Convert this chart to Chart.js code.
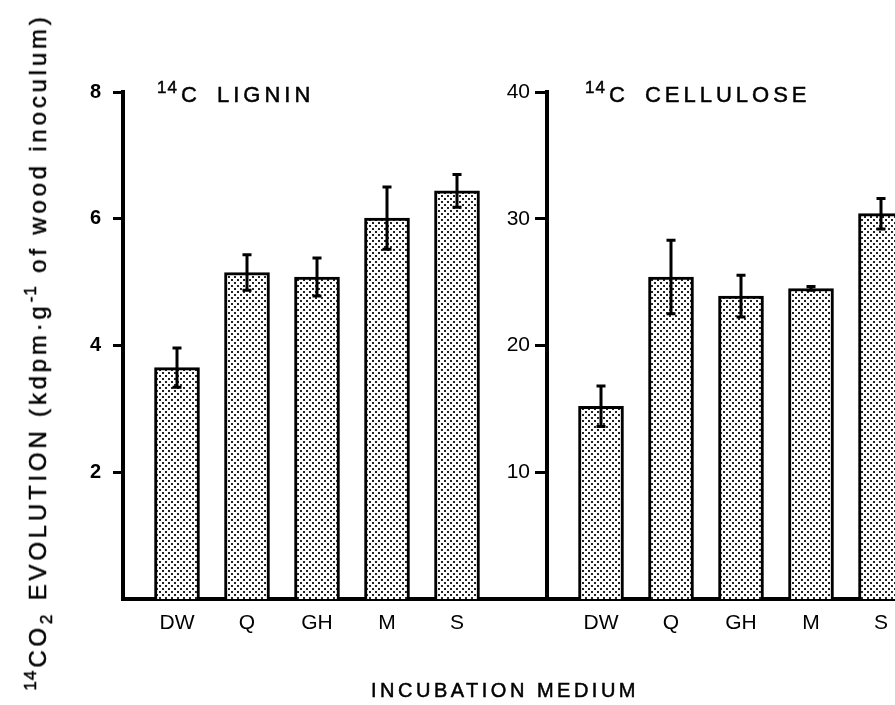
<!DOCTYPE html>
<html>
<head>
<meta charset="utf-8">
<script src="https://cdn.jsdelivr.net/npm/chart.js@4.4.1/dist/chart.umd.min.js"></script>
<style>
  html, body { margin: 0; padding: 0; background: #fff; }
  #fig { position: relative; width: 895px; height: 705px; overflow: hidden;
         font-family: "Liberation Sans", Arial, sans-serif; color: #000; }
  #fig canvas { position: absolute; left: 0; top: 0; }
  .t { position: absolute; line-height: 1; white-space: nowrap; -webkit-text-stroke: 0.5px #000; }
  .sup { position: relative; letter-spacing: 1px; }
  .ttl { font-size: 22px; letter-spacing: 4px; top: 84px; }
  .ttl .sup { font-size: 17px; top: -9px; margin-right: 3px; }
  .ttl .gap { margin-left: 6px; }
  #ytitle { left: 38px; top: 352px; font-size: 24px; letter-spacing: 3.8px;
            transform: translate(-50%, -50%) rotate(-90deg); }
  #ytitle .sup { font-size: 17px; top: -10px; margin-right: 2px; }
  #ytitle .sub { font-size: 17px; position: relative; top: 6px; }
  #xtitle { left: 505px; top: 680px; font-size: 20px; letter-spacing: 3.5px; transform: translateX(-50%); }
</style>
</head>
<body>
<div id="fig">
  <canvas id="lignin" width="895" height="705"></canvas>
  <canvas id="cellulose" width="960" height="705"></canvas>
  <div class="t ttl" style="left:157px"><span class="sup">14</span>C <span class="gap">LIGNIN</span></div>
  <div class="t ttl" style="left:585px"><span class="sup">14</span>C <span class="gap">CELLULOSE</span></div>
  <div class="t" id="ytitle"><span class="sup">14</span>CO<span class="sub">2</span> EVOLUTION (kdpm·g<span class="sup">-1</span> of wood inoculum)</div>
  <div class="t" id="xtitle">INCUBATION MEDIUM</div>
</div>
<script>
/* 14CO2 evolved from labelled lignin / cellulose per incubation medium, mean ± error */
const CATS = ["DW", "Q", "GH", "M", "S"];
const LIGNIN = [3.65, 5.15, 5.08, 6.01, 6.44];
const LIGNIN_ERR = [0.31, 0.28, 0.30, 0.49, 0.26];
const CELLULOSE = [15.2, 25.4, 23.9, 24.5, 30.4];
const CELLULOSE_ERR = [1.6, 2.9, 1.65, 0.15, 1.2];
const LIGNIN_TICKS = [2, 4, 6, 8];
const CELLULOSE_TICKS = [10, 20, 30, 40];

// halftone fill for the bars
function stipple() {
  const c = document.createElement("canvas");
  c.width = c.height = 6;
  const g = c.getContext("2d");
  g.fillStyle = "#fff"; g.fillRect(0, 0, 6, 6);
  g.fillStyle = "#222";
  g.fillRect(0, 0, 2, 2); g.fillRect(3, 3, 2, 2);
  return g.createPattern(c, "repeat");
}
const DOTS = stipple();

// capped error bars, placed through the chart's own scales
const errorBars = {
  id: "errorBars",
  afterDatasetsDraw(chart, args, opts) {
    const { ctx, scales: { x, y } } = chart;
    ctx.save();
    ctx.strokeStyle = "#000"; ctx.lineWidth = 3;
    chart.data.datasets[0].data.forEach((p, i) => {
      const e = opts.err[i];
      const px = x.getPixelForValue(p.x);
      const hi = y.getPixelForValue(p.y + e), lo = y.getPixelForValue(p.y - e);
      ctx.beginPath();
      ctx.moveTo(px, hi); ctx.lineTo(px, lo);
      ctx.moveTo(px - 4.5, hi); ctx.lineTo(px + 4.5, hi);
      ctx.moveTo(px - 4.5, lo); ctx.lineTo(px + 4.5, lo);
      ctx.stroke();
    });
    ctx.restore();
  },
};

const STEP = 70, LEAD = 54;   // px per category, px from axis to first bar centre
function panel(id, vals, err, yMax, yTicks, o) {
  const canvas = document.getElementById(id);
  return new Chart(canvas, {
    type: "bar",
    data: {
      datasets: [{
        data: vals.map((v, i) => ({ x: i, y: v })),
        backgroundColor: DOTS, borderColor: "#000", borderWidth: 3,
        borderSkipped: "start", barThickness: 45,
      }],
    },
    options: {
      responsive: false, animation: false, events: [], devicePixelRatio: 1,
      layout: { padding: { left: o.axis - 60, right: canvas.width - o.right, top: 92, bottom: 705 - 599 - 40 } },
      plugins: { legend: { display: false }, tooltip: { enabled: false }, errorBars: { err } },
      scales: {
        x: {
          type: "linear", offset: false,
          min: -LEAD / STEP, max: (o.right - o.axis - LEAD) / STEP,
          afterBuildTicks: s => { s.ticks = CATS.map((_, i) => ({ value: i })); },
          afterFit: s => { s.height = 40; },
          grid: { display: false, drawTicks: false, offset: false },
          border: { display: true, color: "#000", width: 4 },
          ticks: { autoSkip: false, maxRotation: 0, padding: 12, color: "#000",
                   font: { size: 21, family: "'Liberation Sans', Arial, sans-serif" },
                   callback: v => CATS[v] ?? "" },
        },
        y: {
          min: 0, max: yMax,
          afterBuildTicks: s => { s.ticks = yTicks.map(v => ({ value: v })); },
          afterFit: s => { s.width = 60; },
          grid: { drawOnChartArea: false, drawTicks: true, tickLength: o.tickLen,
                  tickWidth: 3, tickColor: "#000" },
          border: { display: true, color: "#000", width: 4 },
          ticks: { padding: o.pad, color: "#000",
                   font: { size: o.fs, weight: o.fw, family: "'Liberation Sans', Arial, sans-serif" } },
        },
      },
    },
    plugins: [errorBars],
  });
}

panel("lignin", LIGNIN, LIGNIN_ERR, 8, LIGNIN_TICKS,
  { axis: 123, right: 547, tickLen: 10, pad: 12, fs: 20, fw: "bold" });
panel("cellulose", CELLULOSE, CELLULOSE_ERR, 40, CELLULOSE_TICKS,
  { axis: 547, right: 940, tickLen: 12, pad: 5, fs: 21, fw: "normal" });
</script>
</body>
</html>
